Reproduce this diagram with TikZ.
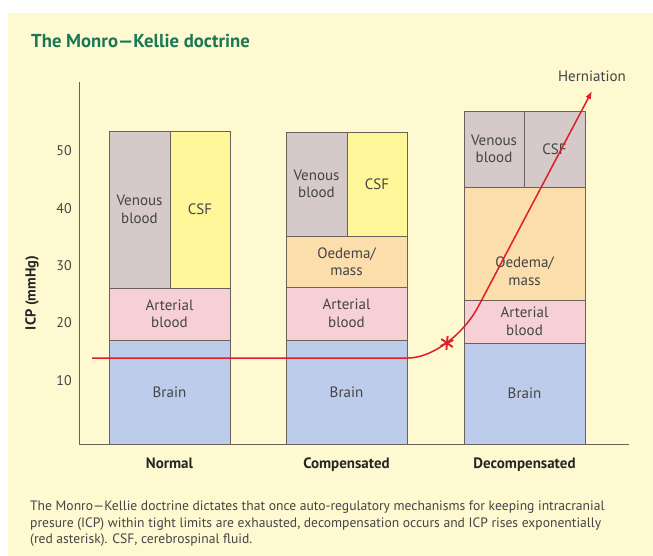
\documentclass[tikz,border=0pt]{standalone}
\usepackage{fontspec}
\setmainfont{PT Sans}
\usepackage{tikz}
\usetikzlibrary{arrows.meta,positioning}
\definecolor{panelc}{RGB}{254,249,208}
\definecolor{venousc}{RGB}{214,201,201}
\definecolor{csfc}{RGB}{255,245,153}
\definecolor{oedemac}{RGB}{252,221,172}
\definecolor{arterialc}{RGB}{247,208,214}
\definecolor{brainc}{RGB}{190,204,236}
\definecolor{edgec}{RGB}{105,98,88}
\definecolor{titlec}{RGB}{27,120,84}
\definecolor{textc}{RGB}{68,68,68}
\definecolor{icpc}{RGB}{222,30,42}

\begin{document}
\begin{tikzpicture}[
  x=1pt, y=-1pt,
  seg/.style={draw=edgec, line width=0.9pt, anchor=north west, inner sep=0pt, outer sep=0pt, align=center, text=textc, font=\fontsize{15}{17.5}\selectfont},
  txt/.style={align=center, text=textc, font=\fontsize{15}{17.5}\selectfont},
  tick/.style={text=textc, font=\fontsize{14}{16}\selectfont},
  cat/.style={font=\fontsize{15}{17}\selectfont\bfseries, text=black!85},
  axis/.style={draw=edgec, line width=0.9pt},
  icp/.style={draw=icpc, line width=1.5pt}
]
\useasboundingbox (0,0) rectangle (653,556);
\fill[white] (0,0) rectangle (653,556);
\fill[panelc] (8,13) rectangle (653,556);

\node[anchor=base west, inner sep=0pt, font=\fontsize{18.7}{22}\selectfont\bfseries, text=titlec] (title) at (31,48) {The Monro—Kellie doctrine};

\coordinate (ytop) at (79,82);
\coordinate (origin) at (79,444);
\coordinate (xend) at (629,444);
\draw[axis] (ytop) -- (origin) -- (xend);
\foreach \v/\yy in {10/381,20/323,30/266,40/209,50/151}
  \node[tick] (t\v) at (64,\yy) {\v};
\node[rotate=90, font=\fontsize{14.5}{16}\selectfont\bfseries, text=black!85] (ylab) at (32,293) {ICP (mmHg)};

\node[seg, fill=venousc, minimum width=61pt, minimum height=157pt] (nven) at (109,131) {Venous\\blood};
\node[seg, fill=csfc, minimum width=60pt, minimum height=157pt] (ncsf) at (170,131) {CSF};
\node[seg, fill=arterialc, minimum width=121pt, minimum height=52pt] (nart) at (109,288) {Arterial\\blood};
\node[seg, fill=brainc, minimum width=121pt, minimum height=104pt] (nbrain) at (109,340) {Brain};

\node[seg, fill=venousc, minimum width=61pt, minimum height=104pt] (cven) at (286,132) {Venous\\blood};
\node[seg, fill=csfc, minimum width=60pt, minimum height=104pt] (ccsf) at (347,132) {CSF};
\node[seg, fill=oedemac, minimum width=121pt, minimum height=51pt] (coed) at (286,236) {Oedema/\\mass};
\node[seg, fill=arterialc, minimum width=121pt, minimum height=53pt] (cart) at (286,287) {Arterial\\blood};
\node[seg, fill=brainc, minimum width=121pt, minimum height=104pt] (cbrain) at (286,340) {Brain};

\node[seg, fill=venousc, minimum width=60pt, minimum height=76pt] (dven) at (464,111) {Venous\\blood};
\node[seg, fill=venousc, minimum width=61pt, minimum height=76pt] (dcsf) at (524,111) {CSF};
\node[seg, fill=oedemac, minimum width=121pt, minimum height=113pt] (doed) at (464,187) {};
\node[txt] (doedt) at (524.5,271) {Oedema/\\mass};
\node[seg, fill=arterialc, minimum width=121pt, minimum height=43pt] (dart) at (464,300) {Arterial\\blood};
\node[seg, fill=brainc, minimum width=121pt, minimum height=101pt] (dbrain) at (464,343) {Brain};

\node[cat, below=10pt of nbrain] (normal) {Normal};
\node[cat, below=10pt of cbrain] (comp) {Compensated};
\node[cat, below=10pt of dbrain] (decomp) {Decompensated};

\coordinate (flat) at (92,358);
\coordinate (bend) at (408,358);
\coordinate (rise) at (478,307);
\coordinate (tip) at (592,91);
\coordinate (ast) at (447,343);
\draw[icp, -{Latex[length=8pt,width=6pt]}] (flat) -- (bend) .. controls (432,358) and (463,335) .. (rise) -- (tip);
\foreach \a in {25,85,145}
  \draw[icp, line width=1.9pt] ([shift={(\a:7pt)}]ast) -- ([shift={(\a+180:7pt)}]ast);
\node[txt, above=6pt of tip] (hernt) {Herniation};

\node[anchor=north west, align=left, inner sep=0pt, text=textc, font=\fontsize{13.6}{16.5}\selectfont] (capt) at (30,501) {The Monro—Kellie doctrine dictates that once auto-regulatory mechanisms for keeping intracranial\\presure (ICP) within tight limits are exhausted, decompensation occurs and ICP rises exponentially\\(red asterisk). CSF, cerebrospinal fluid.};
\end{tikzpicture}
\end{document}
